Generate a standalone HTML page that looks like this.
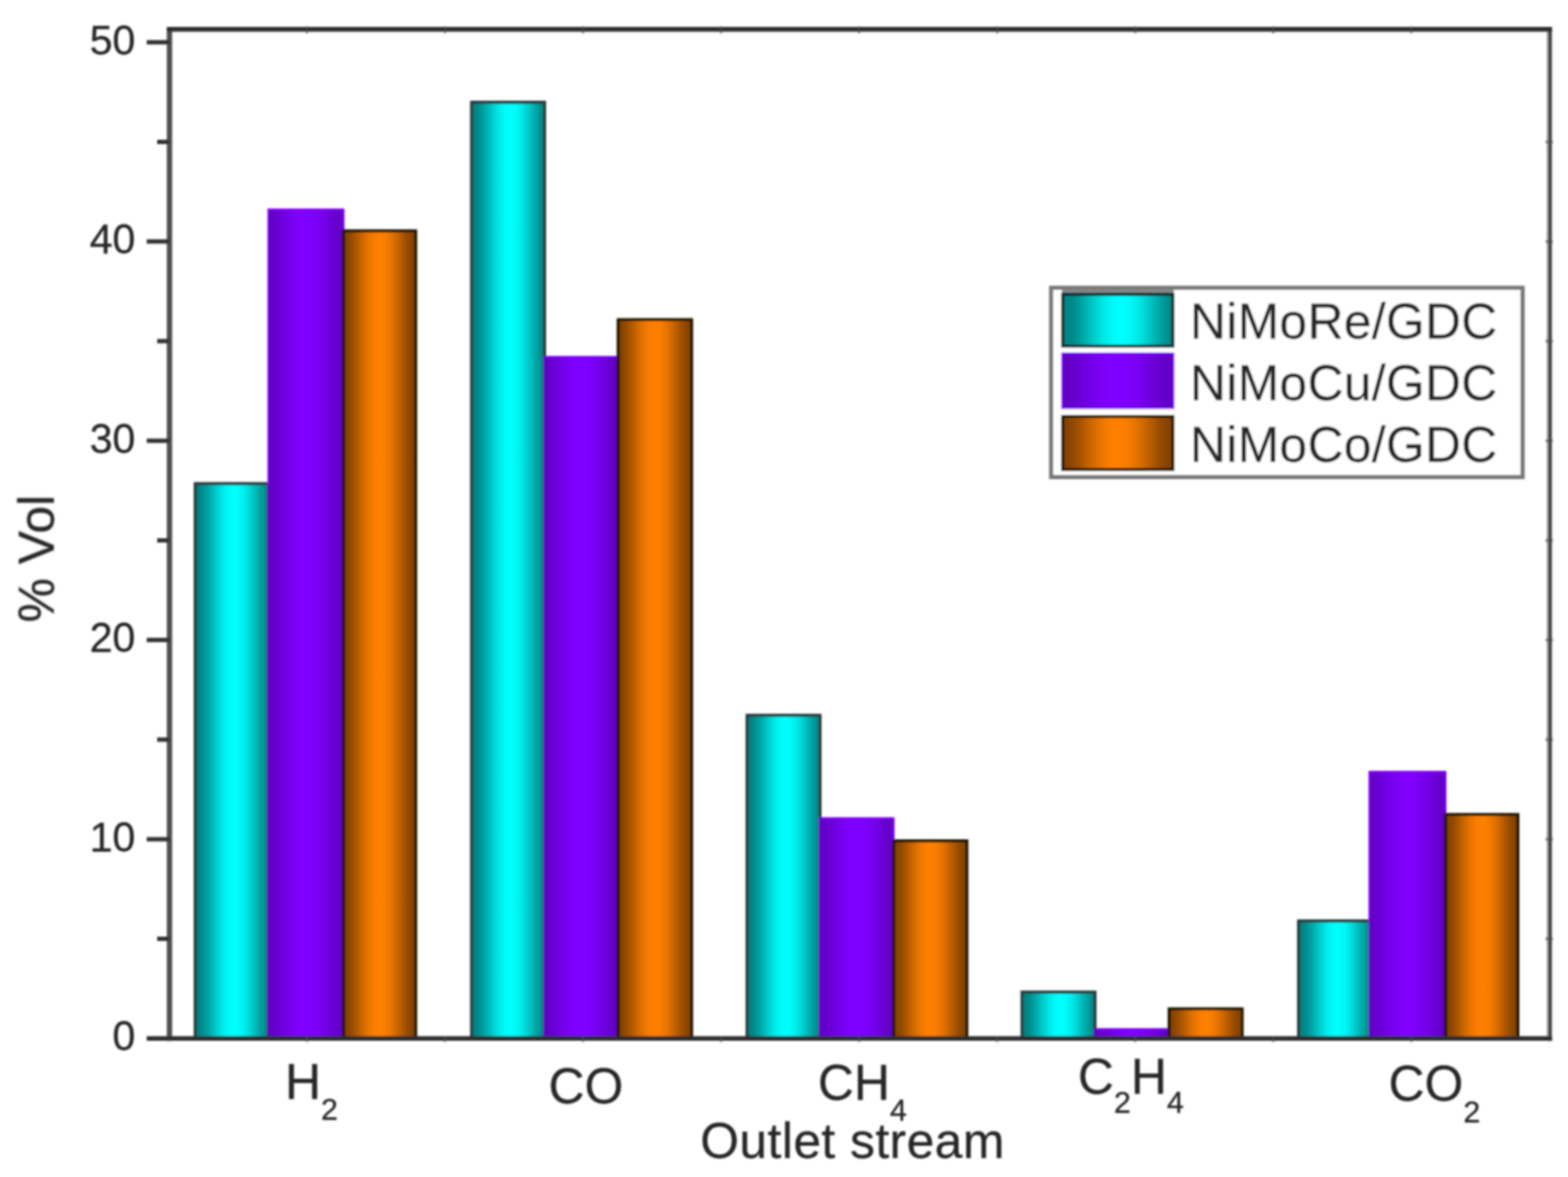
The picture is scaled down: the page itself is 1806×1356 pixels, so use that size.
<!DOCTYPE html>
<html lang="en">
<head>
<meta charset="utf-8">
<title>Outlet stream composition</title>
<style>
html,body{margin:0;padding:0;background:#fff;}
html{width:1806px;height:1356px;}
body{width:1806px;height:1356px;}
svg{display:block;}
text{font-family:"Liberation Sans",Arial,Helvetica,sans-serif;fill:#262626;stroke:#262626;stroke-width:0.3px;stroke-linejoin:round;}
</style>
</head>
<body>
<svg width="1806" height="1356" viewBox="0 0 1806 1356">
<defs>
<linearGradient id="gc" x1="0.03" x2="1.03" y1="0" y2="0"><stop offset="0.0000" stop-color="#008282"/><stop offset="0.0625" stop-color="#008b8b"/><stop offset="0.1250" stop-color="#009d9d"/><stop offset="0.1875" stop-color="#00b3b3"/><stop offset="0.2500" stop-color="#00caca"/><stop offset="0.3125" stop-color="#00dfdf"/><stop offset="0.3750" stop-color="#00f0f0"/><stop offset="0.4375" stop-color="#00fbfb"/><stop offset="0.5000" stop-color="#00ffff"/><stop offset="0.5625" stop-color="#00fbfb"/><stop offset="0.6250" stop-color="#00f0f0"/><stop offset="0.6875" stop-color="#00dfdf"/><stop offset="0.7500" stop-color="#00caca"/><stop offset="0.8125" stop-color="#00b3b3"/><stop offset="0.8750" stop-color="#009d9d"/><stop offset="0.9375" stop-color="#008b8b"/><stop offset="1.0000" stop-color="#008282"/></linearGradient>
<linearGradient id="gp" x1="0.0" x2="1.0" y1="0" y2="0"><stop offset="0.0000" stop-color="#6200c4"/><stop offset="0.0625" stop-color="#6400c8"/><stop offset="0.1250" stop-color="#6800d1"/><stop offset="0.1875" stop-color="#6e00db"/><stop offset="0.2500" stop-color="#7300e6"/><stop offset="0.3125" stop-color="#7800f0"/><stop offset="0.3750" stop-color="#7c00f8"/><stop offset="0.4375" stop-color="#7f00fd"/><stop offset="0.5000" stop-color="#8000ff"/><stop offset="0.5625" stop-color="#7f00fd"/><stop offset="0.6250" stop-color="#7c00f8"/><stop offset="0.6875" stop-color="#7800f0"/><stop offset="0.7500" stop-color="#7300e6"/><stop offset="0.8125" stop-color="#6e00db"/><stop offset="0.8750" stop-color="#6800d1"/><stop offset="0.9375" stop-color="#6400c8"/><stop offset="1.0000" stop-color="#6200c4"/></linearGradient>
<linearGradient id="go" x1="0.0" x2="1.0" y1="0" y2="0"><stop offset="0.0000" stop-color="#804000"/><stop offset="0.0625" stop-color="#894500"/><stop offset="0.1250" stop-color="#9b4e00"/><stop offset="0.1875" stop-color="#b25900"/><stop offset="0.2500" stop-color="#c96500"/><stop offset="0.3125" stop-color="#df7000"/><stop offset="0.3750" stop-color="#f07800"/><stop offset="0.4375" stop-color="#fb7e00"/><stop offset="0.5000" stop-color="#ff8000"/><stop offset="0.5625" stop-color="#fb7e00"/><stop offset="0.6250" stop-color="#f07800"/><stop offset="0.6875" stop-color="#df7000"/><stop offset="0.7500" stop-color="#c96500"/><stop offset="0.8125" stop-color="#b25900"/><stop offset="0.8750" stop-color="#9b4e00"/><stop offset="0.9375" stop-color="#894500"/><stop offset="1.0000" stop-color="#804000"/></linearGradient>
<filter id="soft" x="-2%" y="-2%" width="104%" height="104%"><feGaussianBlur stdDeviation="1.25"/></filter>
</defs>
<rect x="0" y="0" width="1806" height="1356" fill="#fff"/>
<g filter="url(#soft)">
<g>
<rect x="224.9" y="557.2" width="84.0" height="639.2" fill="url(#gc)" stroke="#263a3a" stroke-width="3.5"/>
<rect x="308.0" y="240.5" width="88.5" height="955.9" fill="url(#gp)"/>
<path d="M309.0 557.5V241.5H395.5V266.3" fill="none" stroke="#8208fa" stroke-width="2"/>
<rect x="395.7" y="266.0" width="83.1" height="930.4" fill="url(#go)" stroke="#1e1206" stroke-width="3.4"/>
<rect x="543.2" y="117.8" width="84.0" height="1078.7" fill="url(#gc)" stroke="#263a3a" stroke-width="3.5"/>
<rect x="626.0" y="410.0" width="86.8" height="786.4" fill="url(#gp)"/>
<path d="M629.0 411.0H711.8" fill="none" stroke="#8208fa" stroke-width="2"/>
<rect x="712.0" y="368.3" width="84.6" height="828.1" fill="url(#go)" stroke="#1e1206" stroke-width="3.4"/>
<rect x="860.5" y="824.1" width="84.0" height="372.3" fill="url(#gc)" stroke="#263a3a" stroke-width="3.5"/>
<rect x="943.0" y="941.7" width="87.2" height="254.7" fill="url(#gp)"/>
<path d="M946.0 942.7H1029.2V969.0" fill="none" stroke="#8208fa" stroke-width="2"/>
<rect x="1029.4" y="968.7" width="84.2" height="227.7" fill="url(#go)" stroke="#1e1206" stroke-width="3.4"/>
<rect x="1177.2" y="1143.0" width="84.0" height="53.5" fill="url(#gc)" stroke="#263a3a" stroke-width="3.5"/>
<rect x="1259.7" y="1184.7" width="87.7" height="11.7" fill="url(#gp)"/>
<path d="M1262.7 1185.7H1346.4" fill="none" stroke="#8208fa" stroke-width="2"/>
<rect x="1346.6" y="1162.3" width="84.1" height="34.1" fill="url(#go)" stroke="#1e1206" stroke-width="3.4"/>
<rect x="1495.7" y="1061.0" width="84.0" height="135.5" fill="url(#gc)" stroke="#263a3a" stroke-width="3.5"/>
<rect x="1576.5" y="888.3" width="89.3" height="308.1" fill="url(#gp)"/>
<path d="M1577.5 1061.2V889.3H1664.8V938.7" fill="none" stroke="#8208fa" stroke-width="2"/>
<rect x="1665.0" y="938.4" width="83.3" height="258.0" fill="url(#go)" stroke="#1e1206" stroke-width="3.4"/>
</g>
<line x1="195.2" y1="31.1" x2="195.2" y2="1199.3" stroke="#505050" stroke-width="6.2"/>
<line x1="1785.0" y1="31.1" x2="1785.0" y2="1199.3" stroke="#3c3c3c" stroke-width="4.8"/>
<line x1="1782.8" y1="33.8" x2="1782.8" y2="1196.4" stroke="#8a8a8a" stroke-width="2.2"/>
<g stroke="#2e2e2e" stroke-width="5.4" fill="none">
<line x1="192.1" y1="33.8" x2="1787.5" y2="33.8"/>
<line x1="169" y1="1196.4" x2="1787.5" y2="1196.4"/>
</g>
<g stroke="#4a4a4a" stroke-width="3" fill="none" opacity="0.6">
<line x1="353.5" y1="30.6" x2="353.5" y2="38.4"/>
<line x1="353.5" y1="1194.4" x2="353.5" y2="1200.4"/>
<line x1="512.5" y1="30.6" x2="512.5" y2="38.4"/>
<line x1="512.5" y1="1194.4" x2="512.5" y2="1200.4"/>
<line x1="671.5" y1="30.6" x2="671.5" y2="38.4"/>
<line x1="671.5" y1="1194.4" x2="671.5" y2="1200.4"/>
<line x1="830.5" y1="30.6" x2="830.5" y2="38.4"/>
<line x1="830.5" y1="1194.4" x2="830.5" y2="1200.4"/>
<line x1="989.5" y1="30.6" x2="989.5" y2="38.4"/>
<line x1="989.5" y1="1194.4" x2="989.5" y2="1200.4"/>
<line x1="1148.5" y1="30.6" x2="1148.5" y2="38.4"/>
<line x1="1148.5" y1="1194.4" x2="1148.5" y2="1200.4"/>
<line x1="1307.5" y1="30.6" x2="1307.5" y2="38.4"/>
<line x1="1307.5" y1="1194.4" x2="1307.5" y2="1200.4"/>
<line x1="1466.5" y1="30.6" x2="1466.5" y2="38.4"/>
<line x1="1466.5" y1="1194.4" x2="1466.5" y2="1200.4"/>
<line x1="1625.5" y1="30.6" x2="1625.5" y2="38.4"/>
<line x1="1625.5" y1="1194.4" x2="1625.5" y2="1200.4"/>
<line x1="1780.0" y1="1081.6" x2="1788.6" y2="1081.6"/>
<line x1="1780.0" y1="966.9" x2="1788.6" y2="966.9"/>
<line x1="1780.0" y1="852.1" x2="1788.6" y2="852.1"/>
<line x1="1780.0" y1="737.3" x2="1788.6" y2="737.3"/>
<line x1="1780.0" y1="622.6" x2="1788.6" y2="622.6"/>
<line x1="1780.0" y1="507.8" x2="1788.6" y2="507.8"/>
<line x1="1780.0" y1="393.0" x2="1788.6" y2="393.0"/>
<line x1="1780.0" y1="278.2" x2="1788.6" y2="278.2"/>
<line x1="1780.0" y1="163.5" x2="1788.6" y2="163.5"/>
</g>
<g stroke="#333" stroke-width="5" fill="none">
<line x1="181" y1="1081.6" x2="195.2" y2="1081.6"/>
<line x1="169" y1="966.9" x2="195.2" y2="966.9"/>
<line x1="181" y1="852.1" x2="195.2" y2="852.1"/>
<line x1="169" y1="737.3" x2="195.2" y2="737.3"/>
<line x1="181" y1="622.6" x2="195.2" y2="622.6"/>
<line x1="169" y1="507.8" x2="195.2" y2="507.8"/>
<line x1="181" y1="393.0" x2="195.2" y2="393.0"/>
<line x1="169" y1="278.2" x2="195.2" y2="278.2"/>
<line x1="181" y1="163.5" x2="195.2" y2="163.5"/>
<line x1="169" y1="48.7" x2="195.2" y2="48.7"/>
</g>
<g font-size="47.5" text-anchor="end" fill="#2c2c2c" stroke="#2c2c2c" stroke-width="0.25">
<text x="156.0" y="1210.4">0</text>
<text x="156.0" y="980.9">10</text>
<text x="156.0" y="751.3">20</text>
<text x="156.0" y="521.8">30</text>
<text x="156.0" y="292.2">40</text>
<text x="156.0" y="62.7">50</text>
</g>
<text x="328.2" y="1265.6" font-size="57.5"><tspan dy="0">H</tspan><tspan font-size="35" dy="24">2</tspan></text>
<text x="631.8" y="1271" font-size="57.5"><tspan dy="0">C</tspan><tspan dy="0">O</tspan></text>
<text x="942" y="1267" font-size="57.5"><tspan dy="0">C</tspan><tspan dy="0">H</tspan><tspan font-size="35" dy="24">4</tspan></text>
<text x="1241.5" y="1259.5" font-size="57.5"><tspan dy="0">C</tspan><tspan font-size="35" dy="22">2</tspan><tspan dy="-22">H</tspan><tspan font-size="35" dy="22">4</tspan></text>
<text x="1599.2" y="1268" font-size="57.5"><tspan dy="0">C</tspan><tspan dy="0">O</tspan><tspan font-size="35" dy="24.5">2</tspan></text>
<text x="981.9" y="1333.8" font-size="57.5" letter-spacing="0.45" text-anchor="middle">Outlet stream</text>
<text transform="translate(61.8,643.6) rotate(-90)" font-size="57.5" text-anchor="middle">% Vol</text>
<rect x="1210.7" y="331.6" width="543" height="218" fill="#fff" stroke="#787878" stroke-width="4.8"/>
<rect x="1223" y="333.5" width="129" height="6" fill="#868a8a"/>
<rect x="1224.0" y="339.1" width="126.9" height="59.6" fill="url(#gc)" stroke="#142424" stroke-width="3.4"/>
<text x="1370.5" y="389.5" font-size="57.5" letter-spacing="0.3" fill="#0a0a0a" stroke="#0a0a0a" stroke-width="1.1">NiMoRe/GDC</text>
<rect x="1223.3" y="407.0" width="128.3" height="63.2" fill="url(#gp)" stroke="#8208fa" stroke-width="2.0"/>
<text x="1370.5" y="460.5" font-size="57.5" letter-spacing="0.3" fill="#0a0a0a" stroke="#0a0a0a" stroke-width="1.1">NiMoCu/GDC</text>
<rect x="1224.0" y="479.7" width="126.9" height="61.2" fill="url(#go)" stroke="#1e1206" stroke-width="3.4"/>
<text x="1370.5" y="532.3" font-size="57.5" letter-spacing="0.3" fill="#0a0a0a" stroke="#0a0a0a" stroke-width="1.1">NiMoCo/GDC</text>
</g>
</svg>
</body>
</html>
